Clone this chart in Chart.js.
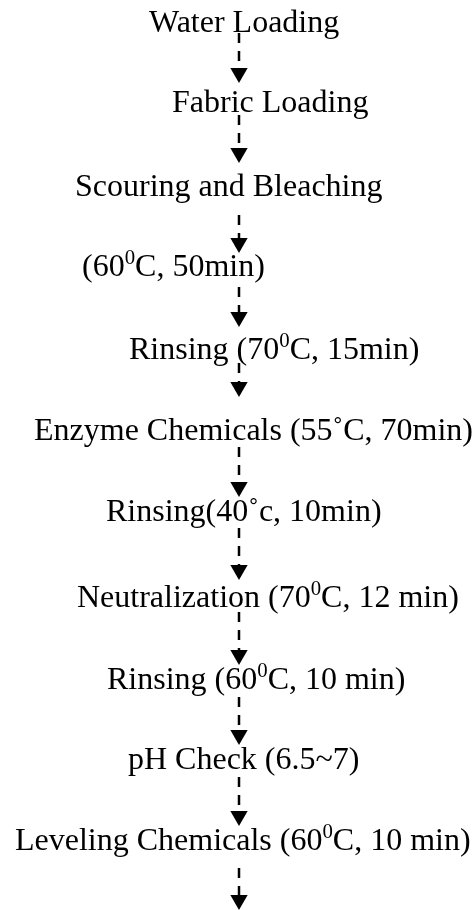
<!DOCTYPE html>
<html>
<head>
<meta charset="utf-8">
<script src="https://cdn.jsdelivr.net/npm/chart.js@4/dist/chart.umd.min.js"></script>
<style>
html,body{margin:0;padding:0;background:#fff;}
#wrap{width:474px;height:910px;}
</style>
</head>
<body>
<div id="wrap"><canvas id="c" width="474" height="910"></canvas></div>
<script>
// Flow steps ("^" marks a superscript character)
const stepLabels = [
  "Water Loading",
  "Fabric Loading",
  "Scouring and Bleaching",
  "(60^0C, 50min)",
  "Rinsing (70^0C, 15min)",
  "Enzyme Chemicals (55\u02DAC, 70min)",
  "Rinsing(40\u02DAc, 10min)",
  "Neutralization (70^0C, 12 min)",
  "Rinsing (60^0C, 10 min)",
  "pH Check (6.5~7)",
  "Leveling Chemicals (60^0C, 10 min)"
];
// label anchor (left edge, baseline) in chart units
const stepX = [149, 172, 75, 82, 129, 34, 106, 77, 107, 128, 15];
const stepY = [32, 112, 196, 276, 359, 440, 521, 607, 689, 769, 850];
// arrows: shaft start and tip, in chart units
const arrowX = 239;
const arrowFrom = [33, 115, 215, 287, 363, 447, 528, 612, 697, 777, 868];
const arrowTo   = [83, 163, 253, 327, 397, 497, 580, 665, 745, 826, 910];

const HEAD = 10;
const FONT_PX = 32;
const FAMILY = '"Liberation Serif", "Times New Roman", serif';

const arrowSets = arrowFrom.map((f, i) => ({
  type: 'line',
  data: [{x: arrowX, y: f}, {x: arrowX, y: arrowTo[i] - HEAD}],
  borderColor: '#000',
  backgroundColor: '#000',
  borderWidth: 2.5,
  borderDash: [10, 8],
  pointRadius: [0, HEAD],
  pointHoverRadius: [0, HEAD],
  pointStyle: 'triangle',
  rotation: 180,
  pointBorderWidth: 0,
  clip: false,
  showLine: true
}));

const labelSet = {
  type: 'scatter',
  data: stepLabels.map((t, i) => ({x: stepX[i], y: stepY[i]})),
  pointRadius: 0,
  pointHoverRadius: 0,
  clip: false
};

function parseSegs(s) {
  const segs = [];
  let buf = '';
  for (let i = 0; i < s.length; i++) {
    if (s[i] === '^' && i + 1 < s.length) {
      if (buf) segs.push({t: buf, sup: false});
      buf = '';
      segs.push({t: s[i + 1], sup: true});
      i++;
    } else buf += s[i];
  }
  if (buf) segs.push({t: buf, sup: false});
  return segs;
}

const textPlugin = {
  id: 'stepText',
  afterDatasetsDraw(chart) {
    const ctx = chart.ctx;
    const meta = chart.getDatasetMeta(chart.data.datasets.length - 1);
    ctx.save();
    ctx.fillStyle = '#000';
    ctx.textBaseline = 'alphabetic';
    ctx.textAlign = 'left';
    meta.data.forEach((pt, i) => {
      let x = pt.x;
      const y = pt.y;
      parseSegs(stepLabels[i]).forEach(seg => {
        if (seg.sup) {
          ctx.font = (FONT_PX * 0.65) + 'px ' + FAMILY;
          ctx.fillText(seg.t, x, y - FONT_PX * 0.36);
        } else {
          ctx.font = FONT_PX + 'px ' + FAMILY;
          ctx.fillText(seg.t, x, y);
        }
        x += ctx.measureText(seg.t).width;
      });
    });
    ctx.restore();
  }
};

new Chart(document.getElementById('c'), {
  type: 'scatter',
  data: { datasets: [...arrowSets, labelSet] },
  options: {
    responsive: false,
    animation: false,
    events: [],
    layout: { padding: 0, autoPadding: false },
    scales: {
      x: { type: 'linear', min: 0, max: 474, display: false },
      y: { type: 'linear', min: 0, max: 910, reverse: true, display: false }
    },
    plugins: { legend: { display: false }, tooltip: { enabled: false } }
  },
  plugins: [textPlugin]
});
</script>
</body>
</html>
